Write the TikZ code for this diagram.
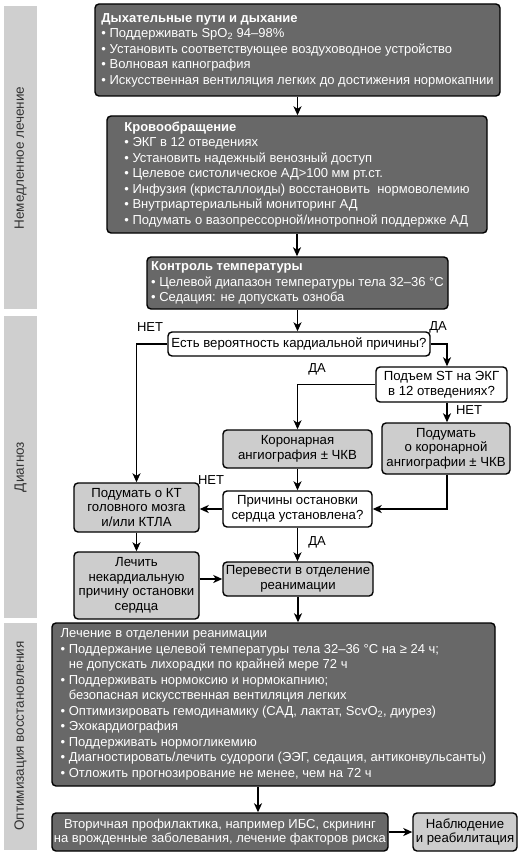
\documentclass[tikz,border=0pt]{standalone}
\usepackage{fontspec}
\setmainfont{Liberation Sans}
\usetikzlibrary{arrows.meta}
\definecolor{darkfill}{RGB}{104,104,104}
\definecolor{lightfill}{RGB}{205,205,205}
\definecolor{barfill}{RGB}{207,207,207}
\definecolor{bartext}{RGB}{50,50,50}
\tikzset{
  darkbox/.style={draw=black, line width=1.4pt, rounded corners=4pt, fill=darkfill, text=white, align=left, inner sep=0pt, font=\fontsize{13}{15.5}\selectfont},
  lightbox/.style={draw=black, line width=1.4pt, rounded corners=4pt, fill=lightfill, text=black, align=center, inner sep=0pt, font=\fontsize{13.2}{14.6}\selectfont},
  qbox/.style={draw=black, line width=1.4pt, rounded corners=4pt, fill=white, text=black, align=center, inner sep=0pt, font=\fontsize{13.2}{14.6}\selectfont},
  bar/.style={fill=barfill, draw=none},
  bartxt/.style={rotate=90, text=bartext, font=\fontsize{13.5}{14}\selectfont},
  lbl/.style={font=\fontsize{13}{14}\selectfont, inner sep=0pt},
  arr/.style={draw=black, line width=1.4pt, -{Stealth[length=9pt,width=8pt,inset=2.5pt]}},
}
\newcommand{\bul}{\textbullet\ }
\newcommand{\ind}{\phantom{\textbullet\ }}
\begin{document}
\begin{tikzpicture}[x=1pt,y=-1pt]
\useasboundingbox (0,0) rectangle (531,856);
\fill[white] (0,0) rectangle (531,856);
% side bars
\fill[bar] (4,6) rectangle (37,309);
\fill[bar] (4,316) rectangle (37,618);
\fill[bar] (4,623) rectangle (37,850);
\node[bartxt] (s1) at (20.5,158) {Немедленное лечение};
\node[bartxt] (s2) at (20.5,467) {Диагноз};
\node[bartxt] (s3) at (20.5,736) {Оптимизация восстановления};
% boxes
\node[darkbox, minimum width=405, minimum height=92] (b1) at (297.5,50) {\textbf{Дыхательные пути и дыхание}\\
\bul Поддерживать SpO\textsubscript{2} 94–98\%\\
\bul Установить соответствующее воздуховодное устройство\\
\bul Волновая капнография\\
\bul Искусственная вентиляция легких до достижения нормокапнии};
\node[darkbox, minimum width=380, minimum height=117] (b2) at (297,174.5) {\textbf{Кровообращение}\\
\bul ЭКГ в 12 отведениях\\
\bul Установить надежный венозный доступ\\
\bul Целевое систолическое АД>100 мм рт.ст.\\
\bul Инфузия (кристаллоиды) восстановить\ \ нормоволемию\\
\bul Внутриартериальный мониторинг АД\\
\bul Подумать о вазопрессорной/инотропной поддержке АД};
\node[darkbox, minimum width=301, minimum height=52] (b3) at (297.5,283) {\textbf{Контроль температуры}\\
\bul Целевой диапазон температуры тела 32–36 °C\\
\bul Седация: не допускать озноба};
\node[qbox, minimum width=262, minimum height=24] (d1) at (299,344) {Есть вероятность кардиальной причины?};
\node[qbox, minimum width=131, minimum height=35] (st) at (441.5,384.5) {Подъем ST на ЭКГ\\в 12 отведениях?};
\node[lightbox, minimum width=128, minimum height=51] (cor) at (446,448.5) {Подумать\\о коронарной\\ангиографии ± ЧКВ};
\node[lightbox, minimum width=149, minimum height=38] (ang) at (297.5,449) {Коронарная\\ангиография ± ЧКВ};
\node[qbox, minimum width=149, minimum height=36] (cause) at (297.5,509) {Причины остановки\\сердца установлена?};
\node[lightbox, minimum width=125, minimum height=49] (kt) at (136.5,507.5) {Подумать о КТ\\головного мозга\\и/или КТЛА};
\node[lightbox, minimum width=125, minimum height=67] (treat) at (136.5,585.5) {Лечить\\некардиальную\\причину остановки\\сердца};
\node[lightbox, minimum width=150, minimum height=34] (icuin) at (298,579) {Перевести в отделение\\реанимации};
\node[darkbox, minimum width=443, minimum height=163] (icu) at (273.5,704.5) {Лечение в отделении реанимации\\
\bul Поддержание целевой температуры тела 32–36 °C на ≥ 24 ч;\\
\ind не допускать лихорадки по крайней мере 72 ч\\
\bul Поддерживать нормоксию и нормокапнию;\\
\ind безопасная искусственная вентиляция легких\\
\bul Оптимизировать гемодинамику (САД, лактат, ScvO\textsubscript{2}, диурез)\\
\bul Эхокардиография\\
\bul Поддерживать нормогликемию\\
\bul Диагностировать/лечить судороги (ЭЭГ, седация, антиконвульсанты)\\
\bul Отложить прогнозирование не менее, чем на 72 ч};
\node[darkbox, align=center, minimum width=336, minimum height=38, font=\fontsize{13}{14.6}\selectfont] (sec) at (220,832) {Вторичная профилактика, например ИБС, скрининг\\на врожденные заболевания, лечение факторов риска};
\node[lightbox, minimum width=104, minimum height=38] (obs) at (465,832) {Наблюдение\\и реабилитация};
% helper coordinates
\coordinate (cx) at (447,0);
\coordinate (cy) at (258,0);
% connectors
\draw[arr] (b1.south) -- (b1.south |- b2.north);
\draw[arr] (b2.south) -- (b2.south |- b3.north);
\draw[arr] (b3.south) -- (b3.south |- d1.north);
\draw[arr] (d1.west) -| (kt.north);
\draw[arr] (d1.east) -| (cx |- st.north);
\draw[arr] (cx |- st.south) -- (cx |- cor.north);
\draw[arr] (st.west) -| (ang.north);
\draw[arr] (ang.south) -- (cause.north);
\draw[arr] (cx |- cor.south) |- (cause.east);
\draw[arr] (cause.west) -- (cause.west -| kt.east);
\draw[arr] (kt.south) -- (treat.north);
\draw[arr] (icuin.west -| treat.east) -- (icuin.west);
\draw[arr] (cause.south) -- (cause.south |- icuin.north);
\draw[arr] (icuin.south) -- (icuin.south |- icu.north);
\draw[arr] (cy |- icu.south) -- (cy |- sec.north);
\draw[arr] (sec.east) -- (obs.west);
% labels
\node[lbl] (l1) at (150,327) {НЕТ};
\node[lbl] (l2) at (438,327) {ДА};
\node[lbl] (l3) at (317,369) {ДА};
\node[lbl] (l4) at (469,410) {НЕТ};
\node[lbl] (l5) at (211,480) {НЕТ};
\node[lbl] (l6) at (317,542) {ДА};
\end{tikzpicture}
\end{document}
